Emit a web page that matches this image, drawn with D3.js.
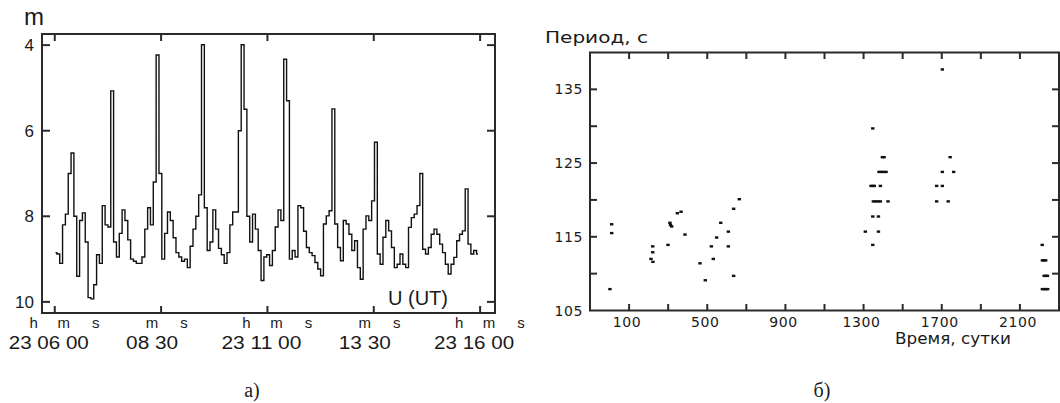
<!DOCTYPE html>
<html>
<head>
<meta charset="utf-8">
<script src="https://cdn.jsdelivr.net/npm/d3@7"></script>
<style>
  body { margin: 0; background: #fff; }
  svg text { fill: #1a1a1a; }
</style>
</head>
<body>
<div id="chart"></div>
<script>
// ---- Daten (links): Helligkeit m, Abtastung alle 4 s ab 23h06m00s ----
const magStep = 4;
const magValues = [
  8.85, 8.88, 9.10, 8.20, 7.95, 7.00, 6.52, 8.00, 9.40, 8.10,
  7.92, 8.60, 9.90, 9.93, 9.60, 8.90, 9.10, 7.75, 8.20, 8.25,
  5.07, 8.60, 8.95, 8.40, 7.85, 8.10, 8.55, 9.00, 9.05, 9.10,
  9.10, 8.95, 8.30, 7.80, 8.20, 7.20, 4.23, 7.00, 9.00, 8.40,
  7.90, 8.10, 8.50, 8.85, 8.95, 9.05, 9.00, 9.20, 8.70, 8.30,
  8.00, 7.50, 3.99, 7.80, 8.80, 8.60, 7.85, 8.30, 8.75, 8.90,
  9.10, 8.85, 8.20, 7.90, 7.90, 6.00, 3.99, 5.50, 8.00, 8.60,
  7.95, 8.30, 8.80, 9.50, 8.95, 8.90, 9.15, 8.80, 8.25, 7.85,
  8.10, 4.33, 5.30, 9.00, 8.80, 8.95, 7.75, 7.80, 8.35, 8.73,
  8.85, 8.92, 9.08, 9.23, 9.39, 8.18, 7.99, 7.87, 5.49, 8.18,
  8.73, 9.04, 8.10, 8.18, 8.42, 8.80, 8.57, 9.20, 9.47, 8.30,
  7.99, 8.10, 7.64, 6.27, 8.88, 9.12, 8.49, 8.10, 8.34, 8.73,
  9.20, 9.12, 8.88, 9.12, 9.20, 8.26, 8.03, 7.95, 7.75, 7.00,
  8.77, 8.88, 8.73, 8.42, 8.30, 8.42, 8.65, 8.85, 9.12, 9.35,
  9.12, 8.96, 8.57, 8.42, 8.34, 7.36, 8.65, 8.88, 8.80, 8.88
];
const timeTicks = [0, 150, 300, 450, 600];
const timeTickLabels = [
  ["23", "06", "00"], [null, "08", "30"], ["23", "11", "00"],
  [null, "13", "30"], ["23", "16", "00"]
];
const magTicks = [4, 6, 8, 10];

// ---- Daten (rechts): Periode vs. Zeit ----
const days = [
  2, 11, 11, 221, 221, 212, 222, 299, 309, 318, 312, 347, 366, 386,
  463, 490, 521, 531, 548, 569, 608, 608, 635, 635, 664,
  1309, 1347, 1347, 1347, 1376, 1376,
  1338, 1347, 1355, 1386,
  1350, 1362, 1374, 1386, 1425,
  1379, 1391, 1403, 1415,
  1396, 1405,
  1703, 1674, 1703, 1674, 1733, 1703, 1761, 1743,
  2214, 2215, 2223, 2232, 2224, 2232, 2241, 2215, 2224, 2233, 2242
];
const periods = [
  107.9, 116.7, 115.5, 113.7, 112.9, 112.0, 111.6, 113.9, 116.9, 116.4, 116.6, 118.2, 118.4, 115.3,
  111.4, 109.1, 113.7, 112.0, 114.9, 116.9, 115.7, 113.7, 118.8, 109.7, 120.1,
  115.7, 129.7, 113.9, 117.75, 117.75, 115.7,
  121.9, 121.9, 121.9, 121.9,
  119.8, 119.8, 119.8, 119.8, 119.8,
  123.8, 123.8, 123.8, 123.8,
  125.8, 125.8,
  137.7, 121.9, 121.9, 119.8, 119.8, 123.8, 123.8, 125.8,
  113.9, 111.8, 111.8, 111.8, 109.7, 109.7, 109.7, 107.9, 107.9, 107.9, 107.9
];
const dayTicks = d3.range(100, 2101, 200);
const dayLabels = [100, 500, 900, 1300, 1700, 2100];
const periodTicks = [110, 115, 120, 125, 130, 135];
const periodLabels = [105, 115, 125, 135];

const W = 1060, H = 403;
const svg = d3.select("#chart").append("svg").attr("width", W).attr("height", H);
const ink = "#2a2a2a";

// ================= linkes Diagramm =================
const L = { x0: 42, x1: 495, y0: 34, y1: 313 };
const xL = d3.scaleLinear().domain([-18, 621]).range([L.x0, L.x1]);
const yL = d3.scaleLinear().domain([3.74, 10.26]).range([L.y0, L.y1]);
const gL = svg.append("g");

const magSeries = magValues.map((v, i) => ({ t: i * magStep + 1, m: v }));
gL.append("path").datum(magSeries)
  .attr("fill", "none").attr("stroke", "#111").attr("stroke-width", 1.4)
  .attr("stroke-linejoin", "miter")
  .attr("d", d3.line().x(d => xL(d.t)).y(d => yL(d.m)).curve(d3.curveStep));

gL.append("rect").attr("x", L.x0).attr("y", L.y0)
  .attr("width", L.x1 - L.x0).attr("height", L.y1 - L.y0)
  .attr("fill", "none").attr("stroke", ink).attr("stroke-width", 2);

timeTicks.forEach(t => {
  gL.append("line").attr("x1", xL(t)).attr("x2", xL(t)).attr("y1", L.y0).attr("y2", L.y0 + 7)
    .attr("stroke", ink).attr("stroke-width", 2);
  gL.append("line").attr("x1", xL(t)).attr("x2", xL(t)).attr("y1", L.y1).attr("y2", L.y1 - 7)
    .attr("stroke", ink).attr("stroke-width", 2);
});
magTicks.forEach(v => {
  gL.append("line").attr("x1", L.x0).attr("x2", L.x0 + 8).attr("y1", yL(v)).attr("y2", yL(v))
    .attr("stroke", ink).attr("stroke-width", 2);
  gL.append("line").attr("x1", L.x1).attr("x2", L.x1 - 8).attr("y1", yL(v)).attr("y2", yL(v))
    .attr("stroke", ink).attr("stroke-width", 2);
  gL.append("text").attr("x", 34).attr("y", yL(v)).attr("dy", "0.36em")
    .attr("text-anchor", "end").attr("font-family", "Liberation Sans, Arial")
    .attr("font-size", 17).text(v);
});

gL.append("text").attr("x", 24).attr("y", 25).attr("font-family", "Liberation Sans, Arial")
  .attr("font-size", 24).text("m");
gL.append("text").attr("x", 388).attr("y", 305).attr("font-family", "Liberation Sans, Arial")
  .attr("font-size", 20).text("U (UT)");

// Zeitbeschriftung 23h06m00s (Buchstaben hochgestellt)
timeTicks.forEach((t, i) => {
  const [h, mm, ss] = timeTickLabels[i];
  const x0 = xL(t);
  const full = h !== null;
  const digits = full ? `${h} ${mm} ${ss}` : `${mm} ${ss}`;
  gL.append("text").attr("x", x0 + (full ? -6 : -9)).attr("y", 349)
    .attr("text-anchor", "middle").attr("font-family", "Liberation Sans, Arial")
    .attr("font-size", 18).attr("textLength", full ? 80 : 52)
    .attr("lengthAdjust", "spacingAndGlyphs").text(digits);
  const sup = full ? [["h", -21], ["m", 9], ["s", 41]] : [["m", -9], ["s", 23]];
  sup.forEach(([c, dx]) => {
    gL.append("text").attr("x", x0 + dx).attr("y", 328)
      .attr("text-anchor", "middle").attr("font-family", "Liberation Sans, Arial")
      .attr("font-size", 15).text(c);
  });
});

// ================= rechtes Diagramm =================
const R = { x0: 590, x1: 1059, y0: 52.5, y1: 310.5 };
const xR = d3.scaleLinear().domain([-100, 2300]).range([R.x0, R.x1]);
const yR = d3.scaleLinear().domain([105, 140]).range([R.y1, R.y0]);
const gR = svg.append("g");

gR.append("rect").attr("x", R.x0).attr("y", R.y0)
  .attr("width", R.x1 - R.x0).attr("height", R.y1 - R.y0)
  .attr("fill", "none").attr("stroke", ink).attr("stroke-width", 2);

dayTicks.forEach(d => {
  gR.append("line").attr("x1", xR(d)).attr("x2", xR(d)).attr("y1", R.y0).attr("y2", R.y0 + 6.5)
    .attr("stroke", ink).attr("stroke-width", 2);
  gR.append("line").attr("x1", xR(d)).attr("x2", xR(d)).attr("y1", R.y1).attr("y2", R.y1 - 6.5)
    .attr("stroke", ink).attr("stroke-width", 2);
});
periodTicks.forEach(p => {
  gR.append("line").attr("x1", R.x0).attr("x2", R.x0 + 7).attr("y1", yR(p)).attr("y2", yR(p))
    .attr("stroke", ink).attr("stroke-width", 2);
  gR.append("line").attr("x1", R.x1).attr("x2", R.x1 - 7).attr("y1", yR(p)).attr("y2", yR(p))
    .attr("stroke", ink).attr("stroke-width", 2);
});
periodLabels.forEach(p => {
  gR.append("text").attr("x", 583).attr("y", yR(p)).attr("dy", "0.36em")
    .attr("text-anchor", "end").attr("font-family", "DejaVu Sans, Verdana")
    .attr("font-size", 14).attr("letter-spacing", 0.6).text(p);
});
dayLabels.forEach(d => {
  gR.append("text").attr("x", xR(d) - 2).attr("y", 327)
    .attr("text-anchor", "middle").attr("font-family", "DejaVu Sans, Verdana")
    .attr("font-size", 14).attr("letter-spacing", 0.6).text(d);
});

gR.append("text").attr("x", 545).attr("y", 43).attr("font-family", "DejaVu Sans, Verdana")
  .attr("font-size", 15).attr("textLength", 103).attr("lengthAdjust", "spacingAndGlyphs")
  .text("Период, с");
gR.append("text").attr("x", 895).attr("y", 344).attr("font-family", "DejaVu Sans, Verdana")
  .attr("font-size", 15).attr("textLength", 116).attr("lengthAdjust", "spacingAndGlyphs")
  .text("Время, сутки");

gR.selectAll("rect.pt").data(days.map((d, i) => ({ d, p: periods[i] })))
  .join("rect").attr("class", "pt")
  .attr("x", v => xR(v.d) - 1.7).attr("y", v => yR(v.p) - 1.2)
  .attr("width", 3.4).attr("height", 2.4).attr("fill", "#111");

// Bildunterschriften
svg.append("text").attr("x", 252).attr("y", 397).attr("text-anchor", "middle")
  .attr("font-family", "Liberation Serif, Times New Roman").attr("font-size", 20).text("а)");
svg.append("text").attr("x", 822).attr("y", 397).attr("text-anchor", "middle")
  .attr("font-family", "Liberation Serif, Times New Roman").attr("font-size", 20).text("б)");
</script>
</body>
</html>
